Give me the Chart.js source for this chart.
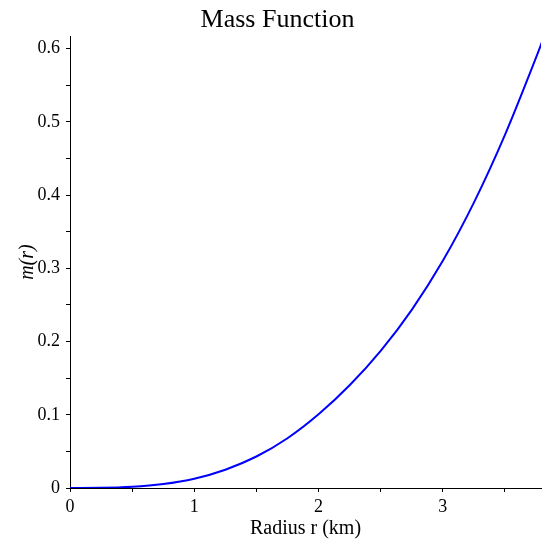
<!DOCTYPE html>
<html>
<head>
<meta charset="utf-8">
<script src="https://cdn.jsdelivr.net/npm/chart.js@4"></script>
<style>
html,body{margin:0;padding:0;background:#fff;}
#wrap{width:542px;height:541px;}
</style>
</head>
<body>
<div id="wrap"><canvas id="c" width="542" height="541"></canvas></div>
<script>
// Data
const radius = [0, 0.25, 0.5, 0.75, 1.0, 1.25, 1.5, 1.75, 2.0, 2.25, 2.5, 2.75, 3.0, 3.25, 3.5, 3.75, 3.8];
const mass   = [0, 0.0002, 0.0016, 0.0054, 0.0127, 0.025, 0.043, 0.068, 0.1007, 0.1403, 0.1873, 0.2433, 0.3103, 0.3898, 0.4823, 0.5878, 0.610];
const xTickValues = [0, 0.5, 1, 1.5, 2, 2.5, 3, 3.5];
const yTickValues = [0, 0.05, 0.1, 0.15, 0.2, 0.25, 0.3, 0.35, 0.4, 0.45, 0.5, 0.55, 0.6];
const xTickLabels = {0: "0", 1: "1", 2: "2", 3: "3"};
const yTickLabels = {0: "0", 0.1: "0.1", 0.2: "0.2", 0.3: "0.3", 0.4: "0.4", 0.5: "0.5", 0.6: "0.6"};
const chartTitle = "Mass Function";
const xTitle = "Radius r (km)";
const yTitle = "m(r)";
const xRange = [0, 3.79];
const yRange = [0, 0.617];

const points = radius.map((r, i) => ({x: r, y: mass[i]}));
const serif = "'Liberation Serif', 'Times New Roman', serif";

function labelFor(map, v) {
  for (const k in map) {
    if (Math.abs(parseFloat(k) - v) < 1e-6) return map[k];
  }
  return '';
}

new Chart(document.getElementById('c'), {
  type: 'scatter',
  data: {
    datasets: [{
      data: points,
      showLine: true,
      borderColor: '#0000ff',
      borderWidth: 2,
      pointRadius: 0,
      cubicInterpolationMode: 'monotone',
      fill: false
    }]
  },
  options: {
    responsive: false,
    animation: false,
    layout: {padding: {left: 14, right: 1, top: 0, bottom: 0}},
    plugins: {
      legend: {display: false},
      tooltip: {enabled: false},
      title: {
        display: true,
        text: chartTitle,
        color: '#000',
        font: {family: serif, size: 26, weight: 'normal'},
        padding: {top: 5, bottom: 0}
      }
    },
    scales: {
      x: {
        type: 'linear',
        min: xRange[0],
        max: xRange[1],
        afterBuildTicks: s => { s.ticks = xTickValues.map(v => ({value: v})); },
        afterFit: s => { s.height = 53; },
        ticks: {
          autoSkip: false,
          maxRotation: 0,
          color: '#000',
          padding: 4,
          font: {family: serif, size: 18},
          callback: v => labelFor(xTickLabels, v)
        },
        grid: {drawOnChartArea: false, tickLength: 4, tickColor: '#000'},
        border: {display: true, color: '#000', width: 1},
        title: {
          display: true,
          text: xTitle,
          color: '#000',
          font: {family: serif, size: 20},
          padding: {top: 0, bottom: 0}
        }
      },
      y: {
        type: 'linear',
        min: yRange[0],
        max: yRange[1],
        afterBuildTicks: s => { s.ticks = yTickValues.map(v => ({value: v})); },
        afterFit: s => { s.width = 56; },
        ticks: {
          autoSkip: false,
          color: '#000',
          padding: 6,
          font: {family: serif, size: 18},
          callback: v => labelFor(yTickLabels, v)
        },
        grid: {drawOnChartArea: false, tickLength: 4, tickColor: '#000'},
        border: {display: true, color: '#000', width: 1},
        title: {
          display: true,
          text: yTitle,
          color: '#000',
          font: {family: serif, size: 20, style: 'italic'},
          padding: {top: 2, bottom: 0}
        }
      }
    }
  }
});
</script>
</body>
</html>
